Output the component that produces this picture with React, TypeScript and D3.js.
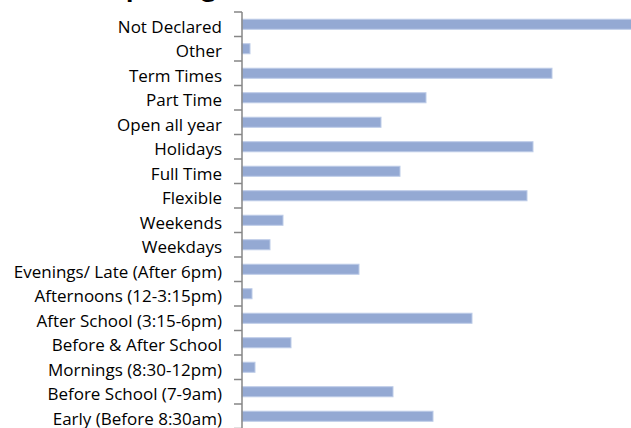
import React from "react";
import * as d3 from "d3";

const categories: string[] = [
  "Not Declared",
  "Other",
  "Term Times",
  "Part Time",
  "Open all year",
  "Holidays",
  "Full Time",
  "Flexible",
  "Weekends",
  "Weekdays",
  "Evenings/ Late (After 6pm)",
  "Afternoons (12-3:15pm)",
  "After School (3:15-6pm)",
  "Before & After School",
  "Mornings (8:30-12pm)",
  "Before School (7-9am)",
  "Early (Before 8:30am)",
];

const values: number[] = [395, 8, 310, 184, 139, 291, 158, 285, 41, 28, 117, 10, 230, 49, 13, 151, 191];

const titleText = "Opening Times";

const W = 631;
const H = 428;
const axisX = 242;
const top = 12;
const bottom = 428.5;

export default function App() {
  const x = d3.scaleLinear().domain([0, 389]).range([axisX, W]);
  const y = d3
    .scaleBand<string>()
    .domain(categories)
    .range([top, bottom])
    .paddingInner(0.59)
    .paddingOuter(0.295);
  const step = y.step();
  const boundaries = d3.range(categories.length + 1).map((i) => top + i * step);
  const labelFont = "'Open Sans', Lato, sans-serif";
  const titleFont = "Lato, 'Open Sans', sans-serif";

  return (
    <svg
      width={W}
      height={H}
      style={{ position: "absolute", left: 0, top: 0, background: "#fff" }}
    >
      <text x={102} y={-3} fontFamily={titleFont} fontWeight={700} fontSize={30} fill="#000">
        {titleText}
      </text>
      {categories.map((c, i) => (
        <rect
          key={c}
          x={x(0)}
          y={y(c)!}
          width={Math.max(0, x(values[i]) - x(0))}
          height={y.bandwidth()}
          fill="#94A9D3"
          stroke="#BCCBE7"
          strokeWidth={1}
        />
      ))}
      <line x1={axisX} x2={axisX} y1={top} y2={bottom} stroke="#868686" strokeWidth={1.5} />
      {boundaries.map((b, i) => (
        <line key={i} x1={axisX - 8} x2={axisX} y1={b} y2={b} stroke="#868686" strokeWidth={1.5} />
      ))}
      {categories.map((c) => (
        <text
          key={c}
          x={222}
          y={y(c)! + y.bandwidth() / 2}
          dy="0.5em"
          textAnchor="end"
          fontFamily={labelFont}
          fontSize={17}
          fill="#000"
        >
          {c}
        </text>
      ))}
    </svg>
  );
}
